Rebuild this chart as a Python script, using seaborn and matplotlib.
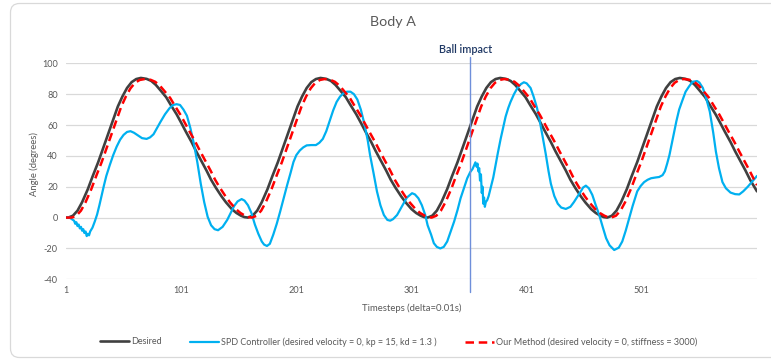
import matplotlib
matplotlib.use("Agg")
import matplotlib.pyplot as plt
import matplotlib.patches as mpatches
from matplotlib.transforms import IdentityTransform, blended_transform_factory
from matplotlib.lines import Line2D
import seaborn as sns

# ---------------- data ----------------
title = "Body A"
x_label = "Timesteps (delta=0.01s)"
y_label = "Angle (degrees)"
x_ticks = [1, 101, 201, 301, 401, 501]
y_ticks = [-40, -20, 0, 20, 40, 60, 80, 100]
impact_step = 352
impact_label = "Ball impact"

names = ["Desired",
         "SPD Controller (desired velocity = 0, kp = 15, kd = 1.3 )",
         "Our Method (desired velocity = 0, stiffness = 3000)"]

desired_t = [1, 3, 7, 11, 15, 20, 24, 29, 33, 38, 42, 46, 50, 54, 58, 62, 66,
             71, 75, 79, 83, 88, 92, 97, 101, 105, 110, 114, 118, 123, 127, 131, 136,
             140, 145, 149, 153, 156, 159,
             163, 167, 171, 176, 180, 185, 189, 194, 198, 202, 206, 210, 214, 218, 222,
             227, 231, 235, 239, 244, 248, 253, 257, 261, 266, 270, 274, 279, 283, 287,
             292, 296, 301, 305, 309, 312, 315,
             319, 323, 327, 332, 336, 341, 345, 350, 354, 358, 362, 366, 370, 374, 378,
             383, 387, 391, 395, 400, 404, 409, 413, 417, 422, 426, 430, 435, 439, 443,
             448, 452, 457, 461, 465, 468, 471,
             475, 479, 483, 488, 492, 497, 501, 506, 510, 514, 518, 522, 526, 530, 534,
             539, 543, 547, 551, 556, 560, 565, 569, 573, 578, 582, 586, 591, 595, 599,
             601]
desired_y = [0, 0, 1.2, 4.5, 10, 18.5, 26.5, 36, 44.5, 55, 63.5, 72, 78.5, 84, 87.8, 89.8,
             90.5,
             89.9, 88.6, 86, 82.5, 78, 73, 67, 61.5, 55.8, 49, 43, 37.5, 30.5, 24.5, 19.5,
             13.8, 9.8, 5.5, 3, 1.2, 0.3, 0,
             1.2, 4.5, 10, 18.5, 26.5, 36, 44.5, 55, 63.5, 72, 78.5, 84, 87.8, 89.8, 90.5,
             89.9, 88.6, 86, 82.5, 78, 73, 67, 61.5, 55.8, 49, 43, 37.5, 30.5, 24.5, 19.5,
             13.8, 9.8, 5.5, 3, 1.2, 0.3, 0,
             1.2, 4.5, 10, 18.5, 26.5, 36, 44.5, 55, 63.5, 72, 78.5, 84, 87.8, 89.8, 90.5,
             89.9, 88.6, 86, 82.5, 78, 73, 67, 61.5, 55.8, 49, 43, 37.5, 30.5, 24.5, 19.5,
             13.8, 9.8, 5.5, 3, 1.2, 0.3, 0,
             1.2, 4.5, 10, 18.5, 26.5, 36, 44.5, 55, 63.5, 72, 78.5, 84, 87.8, 89.8, 90.5,
             89.9, 88.6, 86, 82.5, 78, 73, 67, 61.5, 55.8, 49, 43, 37.5, 30.5, 24.5, 19.5,
             17]

spd_t = [1, 4, 6, 8, 9, 10, 11, 12, 13, 14, 15, 16, 17, 18, 19, 20, 21, 22, 24, 26, 28,
         30, 32, 34, 36, 39, 42, 45, 48, 51, 54, 57, 60, 63, 67, 71, 74, 77, 80, 83, 87,
         91, 94, 97, 100, 103, 106, 109, 112, 115, 118, 121, 124, 127, 130, 133, 137,
         141, 144, 147, 150, 153.5, 156, 159, 162, 165, 168, 171, 173, 175.5, 178, 181,
         184, 187, 190, 193, 196, 198.5, 201, 204, 207, 210, 214, 218, 221, 224, 227,
         230.5, 233, 236, 239, 242, 245, 248, 251, 254, 257, 260, 263, 265, 268, 271,
         274, 277, 280, 282.5, 285, 288.5, 291, 294, 297, 301.5, 304, 307, 310, 313,
         315, 318, 320.4, 323, 326, 329, 332, 335, 338, 341, 343.6, 346.5, 349.4, 352,
         354, 356.5, 357.5, 358.3, 359, 359.8, 360.5, 361.3, 362, 362.7, 363.3, 364,
         364.7, 365.5, 366.8, 368, 369.7, 372, 374, 376, 378.4, 380.5, 382.7, 385, 387,
         390, 393, 396, 398.6, 401, 404.4, 407, 410, 412, 414.6, 417.5, 420, 422, 425,
         428, 431, 435, 439, 442, 445, 448, 450, 452.4, 455, 458, 461, 464, 467, 470,
         473, 477, 481, 484, 487, 490, 493, 497, 500, 503, 506, 509, 513, 516, 519,
         521, 523, 525, 527, 529, 531, 533.4, 536, 539, 542, 545, 549, 551, 554, 557,
         560, 563, 565.3, 568, 571, 574, 578, 582, 585.6, 589, 593, 597, 601]
spd_y = [0, 0, -1, -2, -4, -3, -5.5, -4.5, -7, -6, -8.5, -7.5, -10, -9, -12, -10.5, -11.5,
         -9, -6.5, -2.5, 2, 8, 14.5, 21, 27, 34, 40.5, 46, 50.5, 53.6, 55.5, 56, 55,
         53.5, 51.5, 51, 52, 54, 58, 62, 67, 71, 73, 73.5, 73, 70, 66, 58, 48, 36, 22,
         10, 0.5, -5, -7.5, -8.2, -6, -1.5, 3, 7.5, 10.5, 12, 11, 8, 3, -4.5, -10.5,
         -15.5, -17.5, -18.4, -17, -11, -4, 4, 12.5, 21, 29, 36, 40.5, 43.5, 45.5,
         46.8, 47, 47, 48.5, 51, 56, 64, 69.5, 75, 78.5, 80.6, 81.6, 81.6, 80, 76.5,
         70, 61, 50, 40.6, 29, 17, 8, 1.7, -1.5, -2, -1, 1.7, 5, 9, 13, 15.8, 15, 12.5,
         8, 1.5, -5, -11, -16.6, -19, -20, -19, -15.5, -9, -2.6, 5, 12.5, 19, 25.5,
         29.5, 31.5, 35.8, 33, 35, 30, 32, 24, 28, 16, 20, 9, 13, 7, 10, 11.4, 14, 19,
         26, 34, 42, 51, 58, 65.4, 71, 75, 80, 84, 86.5, 87.7, 87, 84, 78.5, 71, 64,
         53.6, 41.5, 30, 22, 14, 9, 6.5, 5.6, 7, 10, 13.5, 17, 19.5, 20.7, 19, 14.7, 8,
         1.7, -6, -13.4, -18, -21, -19.5, -15.5, -8.5, -0.4, 7.5, 17, 20.5, 23, 24.5,
         25.5, 26, 26.3, 27.5, 30, 35, 40.6, 48, 55.7, 62.5, 70, 75.5, 81.6, 85, 88,
         88.5, 87.5, 84, 77, 68.7, 55, 42.8, 32, 23, 19, 16.2, 15.2, 15, 17, 20, 23.5,
         27]

ours_t = [1, 6, 10, 14, 18, 23, 27, 32, 36, 41, 45, 49, 53, 57, 61, 65, 69.5,
          74.5, 78.5, 82.5, 86.5, 91.5, 95.5, 100.5, 104.5, 108.5, 113.5, 117.5, 121.5,
          126.5, 130.5, 134.5, 139.5, 143.5, 148.5, 152.5, 156.5, 159.5, 162.5,
          166.5, 170.5, 174.5, 179.5, 183.5, 188.5, 192.5, 197.5, 201.5, 205.5, 209.5,
          213.5, 217.5, 221.5, 225.5,
          230.5, 234.5, 238.5, 242.5, 247.5, 251.5, 256.5, 260.5, 264.5, 269.5, 273.5,
          277.5, 282.5, 286.5, 290.5, 295.5, 299.5, 304.5, 308.5, 312.5, 315.5, 318.5,
          322.5, 326.5, 330.5, 335.5, 339.5, 344.5, 348.5, 353.5, 357.5, 361.5, 365.5,
          369.5, 373.5, 377.5, 381.5,
          386.5, 390.5, 394.5, 398.5, 403.5, 407.5, 412.5, 416.5, 420.5, 425.5, 429.5,
          433.5, 438.5, 442.5, 446.5, 451.5, 455.5, 460.5, 464.5, 468.5, 471.5, 474.5,
          478.5, 482.5, 486.5, 491.5, 495.5, 500.5, 504.5, 509.5, 513.5, 517.5, 521.5,
          525.5, 529.5, 533.5, 537.5,
          542.5, 546.5, 550.5, 554.5, 559.5, 563.5, 568.5, 572.5, 576.5, 581.5, 585.5,
          589.5, 594.5, 598.5, 601]
ours_y = [0, 0, 1.2, 4.5, 10, 18.5, 26.5, 36, 44.5, 55, 63.5, 72, 78.5, 83.8, 87.4, 89.2,
          89.8,
          89.3, 88, 85.5, 82, 77.5, 72.5, 66.5, 61, 55.5, 48.8, 43, 37.5, 30.5, 24.5,
          19.5, 13.8, 9.8, 5.5, 3, 1.2, 0.3, 0,
          1.2, 4.5, 10, 18.5, 26.5, 36, 44.5, 55, 63.5, 72, 78.5, 83.8, 87.4, 89.2, 89.8,
          89.3, 88, 85.5, 82, 77.5, 72.5, 66.5, 61, 55.5, 48.8, 43, 37.5, 30.5, 24.5,
          19.5, 13.8, 9.8, 5.5, 3, 1.2, 0.3, 0,
          1.2, 4.5, 10, 18.5, 26.5, 36, 44.5, 55, 63.5, 72, 78.5, 83.8, 87.4, 89.2, 89.8,
          89.3, 88, 85.5, 82, 77.5, 72.5, 66.5, 61, 55.5, 48.8, 43, 37.5, 30.5, 24.5,
          19.5, 13.8, 9.8, 5.5, 3, 1.2, 0.3, 0,
          1.2, 4.5, 10, 18.5, 26.5, 36, 44.5, 55, 63.5, 72, 78.5, 83.8, 87.4, 89.2, 89.8,
          89.3, 88, 85.5, 82, 77.5, 72.5, 66.5, 61, 55.5, 48.8, 43, 37.5, 30.5, 24.5,
          21]

# ---------------- styling ----------------
W, H, DPI = 7.71, 3.63, 100
sns.set_theme(style="white")
plt.rcParams["font.family"] = ["Lato", "DejaVu Sans"]
txt_gray = "#595959"
grid_gray = "#D9D9D9"
c_desired = "#404040"
c_spd = "#00B0F0"
c_ours = "#FF0000"

fig = plt.figure(figsize=(W, H), dpi=DPI)
fig.patch.set_facecolor("white")

# chart-area border (rounded)
border = mpatches.FancyBboxPatch((10.5, 5.5), 790, 354,
                                 boxstyle="round,pad=0,rounding_size=9",
                                 transform=IdentityTransform(),
                                 facecolor="none", edgecolor=grid_gray, lw=0.9)
fig.add_artist(border)

left, right = 66 / 771, 757 / 771
bottom, top = 1 - 279.3 / 363, 1 - 63.3 / 363
ax = fig.add_axes([left, bottom, right - left, top - bottom])
ax.set_facecolor("none")

line_kw = dict(estimator=None, sort=False, solid_joinstyle="round",
               solid_capstyle="round")
sns.lineplot(x=desired_t, y=desired_y, ax=ax, color=c_desired, lw=1.9,
             label=names[0], zorder=3, **line_kw)
sns.lineplot(x=spd_t, y=spd_y, ax=ax, color=c_spd, lw=1.6,
             label=names[1], zorder=4, **line_kw)
sns.lineplot(x=ours_t, y=ours_y, ax=ax, color=c_ours, lw=1.8,
             linestyle=(0, (3.4, 1.9)), label=names[2], zorder=5, **line_kw)

ax.set_xlim(1, 601)
ax.set_ylim(-40, 100)
ax.set_xticks(x_ticks)
ax.set_xticklabels([str(v) for v in x_ticks])
ax.set_yticks(y_ticks)
ax.set_yticklabels([str(v) for v in y_ticks])
ax.yaxis.grid(True, color=grid_gray, lw=0.9, zorder=0)
ax.xaxis.grid(False)
ax.set_axisbelow(True)
for s in ax.spines.values():
    s.set_visible(False)
ax.tick_params(axis="both", length=0, colors=txt_gray, labelsize=6.6)
ax.tick_params(axis="y", pad=6)
ax.tick_params(axis="x", pad=5)
ax.set_xlabel("")
ax.set_ylabel("")

# ball impact marker
trans = blended_transform_factory(ax.transData, ax.transAxes)
ax.add_line(Line2D([impact_step, impact_step], [-0.059, 1.029], transform=trans,
                   color="#6F8FDA", lw=1.0, clip_on=False, zorder=6))
ax.text(impact_step - 4, 1.062, impact_label, transform=trans, ha="center",
        va="center", color="#1F3864", fontsize=7.8, fontweight="semibold")

# titles / labels
fig.text(393 / 771, 1 - 22.5 / 363, title, ha="center", va="center",
         color=txt_gray, fontsize=10.3)
fig.text(412 / 771, 1 - 308 / 363, x_label, ha="center", va="center",
         color=txt_gray, fontsize=6.8)
fig.text(34 / 771, 1 - 164 / 363, y_label, ha="center", va="center",
         rotation=90, color=txt_gray, fontsize=6.8)

# legend: one entry per block, placed like the reference
handles, labels = ax.get_legend_handles_labels()
ax.get_legend().remove()
starts = [100, 190, 465]
for h, l, x0 in zip(handles, labels, starts):
    lg = fig.legend([h], [l], loc="center left",
                    bbox_to_anchor=(x0 / 771, 1 - 342 / 363),
                    frameon=False, handlelength=3.2, handletextpad=0.2,
                    borderpad=0, borderaxespad=0, prop={"size": 6.5})
    for t in lg.get_texts():
        t.set_color(txt_gray)

fig.savefig("out.png", dpi=DPI, facecolor="white")
